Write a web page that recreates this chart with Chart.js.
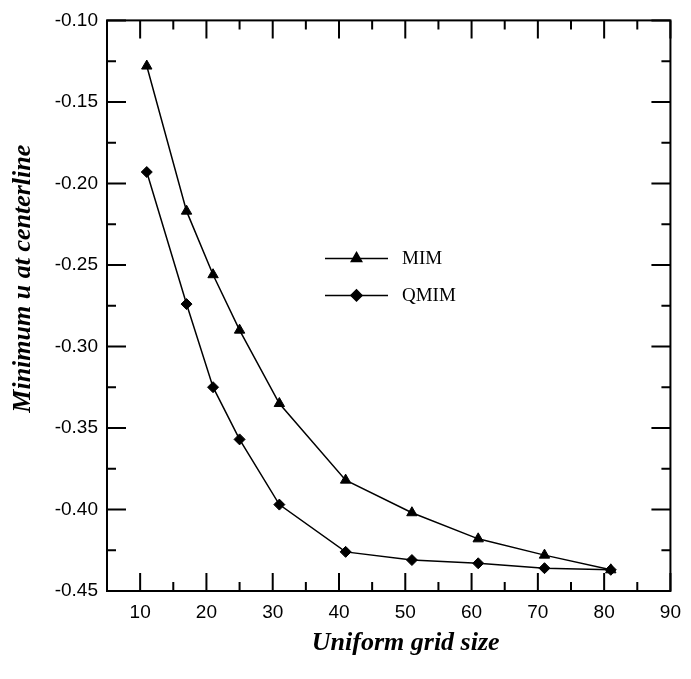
<!DOCTYPE html>
<html>
<head>
<meta charset="utf-8">
<script src="https://cdn.jsdelivr.net/npm/chart.js@4"></script>
<style>
  html, body { margin: 0; padding: 0; background: #fff; }
  #wrap { width: 691px; height: 679px; }
</style>
</head>
<body>
<div id="wrap"><canvas id="chart" width="691" height="679"></canvas></div>
<script>
// grid sizes and minimum u values
const gridSize = [11, 17, 21, 25, 31, 41, 51, 61, 71, 81];
const mimValues = [-0.128, -0.217, -0.256, -0.290, -0.335, -0.382, -0.402, -0.418, -0.428, -0.437];
const qmimValues = [-0.193, -0.274, -0.325, -0.357, -0.397, -0.426, -0.431, -0.433, -0.436, -0.437];

const xTicks = [10, 20, 30, 40, 50, 60, 70, 80, 90];
const xMinor = [15, 25, 35, 45, 55, 65, 75, 85];
const yTicks = [-0.45, -0.40, -0.35, -0.30, -0.25, -0.20, -0.15, -0.10];
const yMinor = [-0.425, -0.375, -0.325, -0.275, -0.225, -0.175, -0.125];

const xTitle = 'Uniform grid size';
const yTitle = 'Minimum u at centerline';

const labelFont = { family: '"Liberation Sans", Arial, sans-serif', size: 19 };
const titleFont = 'italic bold 26px "Liberation Serif", "Times New Roman", serif';

function toPoints(xs, ys) {
    return xs.map((x, i) => ({ x: x, y: ys[i] }));
}

// frame with inward ticks on all four sides
const framePlugin = {
    id: 'frame',
    afterDatasetsDraw(chart) {
        const ctx = chart.ctx;
        const a = chart.chartArea;
        const xs = chart.scales.x, ys = chart.scales.y;
        ctx.save();
        ctx.strokeStyle = '#000';
        ctx.lineWidth = 2;
        ctx.strokeRect(a.left, a.top, a.right - a.left, a.bottom - a.top);
        function vTick(v, len) {
            const px = xs.getPixelForValue(v);
            ctx.beginPath();
            ctx.moveTo(px, a.bottom); ctx.lineTo(px, a.bottom - len);
            ctx.moveTo(px, a.top); ctx.lineTo(px, a.top + len);
            ctx.stroke();
        }
        function hTick(v, len) {
            const py = ys.getPixelForValue(v);
            ctx.beginPath();
            ctx.moveTo(a.left, py); ctx.lineTo(a.left + len, py);
            ctx.moveTo(a.right, py); ctx.lineTo(a.right - len, py);
            ctx.stroke();
        }
        xTicks.forEach(v => vTick(v, 18));
        xMinor.forEach(v => vTick(v, 9));
        yTicks.forEach(v => hTick(v, 19));
        yMinor.forEach(v => hTick(v, 9));
        ctx.restore();
    }
};

// axis titles (placed off-centre like in the original figure)
const titlePlugin = {
    id: 'axisTitles',
    afterDraw(chart) {
        const ctx = chart.ctx;
        const a = chart.chartArea;
        ctx.save();
        ctx.fillStyle = '#000';
        ctx.font = titleFont;
        ctx.textAlign = 'center';
        ctx.textBaseline = 'alphabetic';
        ctx.fillText(xTitle, (a.left + a.right) / 2 + 17, a.bottom + 59);
        ctx.translate(30, (a.top + a.bottom) / 2 - 27);
        ctx.rotate(-Math.PI / 2);
        ctx.fillText(yTitle, 0, 0);
        ctx.restore();
    }
};

// legend drawn inside the plot: line with marker, then label
const legendPlugin = {
    id: 'innerLegend',
    afterDatasetsDraw(chart) {
        const ctx = chart.ctx;
        const a = chart.chartArea;
        const x0 = a.left + 218, x1 = a.left + 281;
        ctx.save();
        chart.data.datasets.forEach((ds, i) => {
            const y = a.top + 238 + i * 37;
            ctx.strokeStyle = '#000';
            ctx.fillStyle = '#000';
            ctx.lineWidth = 1.5;
            ctx.beginPath();
            ctx.moveTo(x0, y); ctx.lineTo(x1, y);
            ctx.stroke();
            Chart.helpers.drawPoint(ctx, {
                pointStyle: ds.pointStyle, radius: ds.pointRadius, rotation: 0, borderWidth: 1
            }, (x0 + x1) / 2, y);
            ctx.font = '19px "Liberation Serif", "Times New Roman", serif';
            ctx.textBaseline = 'middle';
            ctx.textAlign = 'left';
            ctx.fillText(ds.label, x1 + 14, y + 1);
        });
        ctx.restore();
    }
};

new Chart(document.getElementById('chart'), {
    type: 'line',
    data: {
        datasets: [{
            label: 'MIM',
            data: toPoints(gridSize, mimValues),
            borderColor: '#000',
            backgroundColor: '#000',
            borderWidth: 1.5,
            pointStyle: 'triangle',
            pointRadius: 6,
            pointBorderWidth: 1,
            tension: 0
        }, {
            label: 'QMIM',
            data: toPoints(gridSize, qmimValues),
            borderColor: '#000',
            backgroundColor: '#000',
            borderWidth: 1.5,
            pointStyle: 'rectRot',
            pointRadius: 5.5,
            pointBorderWidth: 1,
            tension: 0
        }]
    },
    options: {
        responsive: false,
        animation: false,
        layout: { padding: { left: 0, right: 15, top: 16, bottom: 0 } },
        plugins: {
            legend: { display: false },
            tooltip: { enabled: false }
        },
        scales: {
            x: {
                type: 'linear',
                min: 5,
                max: 90,
                border: { display: false },
                grid: { display: false, drawTicks: false },
                afterBuildTicks: s => { s.ticks = xTicks.map(v => ({ value: v })); },
                afterFit: s => { s.height = 88; },
                ticks: {
                    color: '#000',
                    font: labelFont,
                    padding: 10,
                    maxRotation: 0,
                    callback: v => String(v)
                }
            },
            y: {
                type: 'linear',
                min: -0.45,
                max: -0.10,
                border: { display: false },
                grid: { display: false, drawTicks: false },
                afterBuildTicks: s => { s.ticks = yTicks.map(v => ({ value: v })); },
                afterFit: s => { s.width = 107; },
                ticks: {
                    color: '#000',
                    font: labelFont,
                    padding: 9,
                    callback: v => v.toFixed(2)
                }
            }
        }
    },
    plugins: [framePlugin, legendPlugin, titlePlugin]
});
</script>
</body>
</html>
